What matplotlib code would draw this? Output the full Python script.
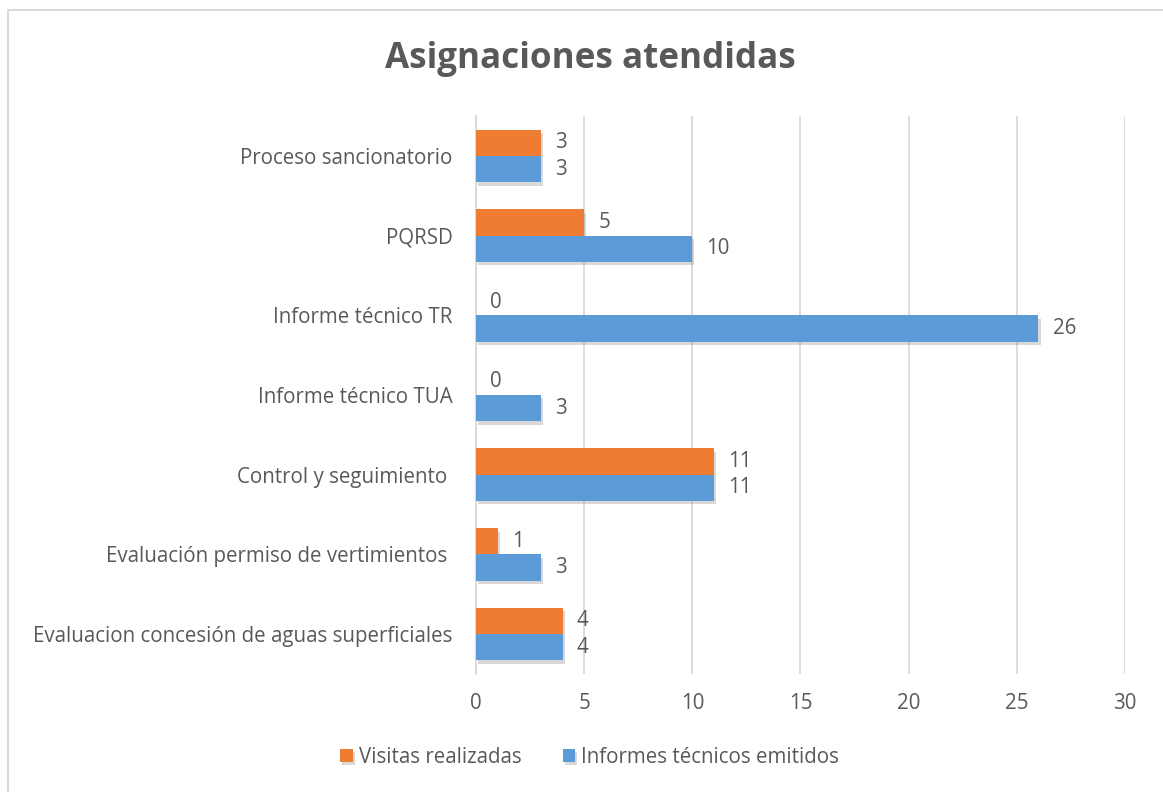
import matplotlib
matplotlib.use("Agg")
import matplotlib.pyplot as plt
import matplotlib.patheffects as pe
from matplotlib.patches import Rectangle
import numpy as np

categories = [
    "Evaluacion concesión de aguas superficiales",
    "Evaluación permiso de vertimientos ",
    "Control y seguimiento ",
    "Informe técnico TUA",
    "Informe técnico TR",
    "PQRSD",
    "Proceso sancionatorio",
]
visitas = [4, 1, 11, 0, 0, 5, 3]
informes = [4, 3, 11, 3, 26, 10, 3]
series_names = ["Visitas realizadas", "Informes técnicos emitidos"]
xticks = [0, 5, 10, 15, 20, 25, 30]

plt.rcParams['font.family'] = ['Open Sans', 'DejaVu Sans']
txt = "#595959"
orange = "#EE7D33"
blue = "#5B9BD8"
fs = 14.8

fig = plt.figure(figsize=(11.63, 7.92), dpi=100)
ax = fig.add_axes([0.4093, 0.149, 0.558, 0.7045])

y = np.arange(len(categories))
h = 0.33
shadow = [pe.SimplePatchShadow(offset=(1.5, -2.5), shadow_rgbFace="#808080", alpha=0.3), pe.Normal()]
b1 = ax.barh(y + h / 2, visitas, height=h, color=orange, label=series_names[0], zorder=3)
b2 = ax.barh(y - h / 2, informes, height=h, color=blue, label=series_names[1], zorder=3)
for b in list(b1) + list(b2):
    b.set_path_effects(shadow)

for yi, v in zip(y, visitas):
    ax.text(v + 0.65, yi + h / 2, str(v), va="center", ha="left", fontsize=fs, color=txt)
for yi, v in zip(y, informes):
    ax.text(v + 0.65, yi - h / 2, str(v), va="center", ha="left", fontsize=fs, color=txt)

ax.set_xlim(0, 30)
ax.set_ylim(-0.5, len(categories) - 0.5)
ax.set_xticks(xticks)
ax.set_xticklabels([str(t) for t in xticks], fontsize=fs, color=txt)
ax.set_yticks(y)
ax.set_yticklabels(categories, fontsize=fs, color=txt)
ax.tick_params(axis="x", length=0, pad=14)
ax.tick_params(axis="y", length=0, pad=17)
ax.grid(axis="x", color="#d9d9d9", linewidth=1.3, zorder=0)
for s in ["top", "right", "bottom"]:
    ax.spines[s].set_visible(False)
ax.spines["left"].set_color("#d9d9d9")
ax.spines["left"].set_linewidth(1.3)

fig.text(0.508, 0.926, "Asignaciones atendidas", ha="center", va="center",
         fontsize=25.2, fontweight="bold", color=txt)

leg = fig.legend(handles=[b1, b2], labels=series_names, loc="center", bbox_to_anchor=(0.507, 0.044),
                 ncol=2, frameon=False, fontsize=fs, handlelength=0.6, handleheight=0.6,
                 columnspacing=2.0, handletextpad=0.3)
for t in leg.get_texts():
    t.set_color(txt)

fig.patches.append(Rectangle((0.007, -0.01), 1.1, 0.997, transform=fig.transFigure,
                             fill=False, edgecolor="#d9d9d9", linewidth=1.5))

fig.savefig("out.png", dpi=100, facecolor="white")
